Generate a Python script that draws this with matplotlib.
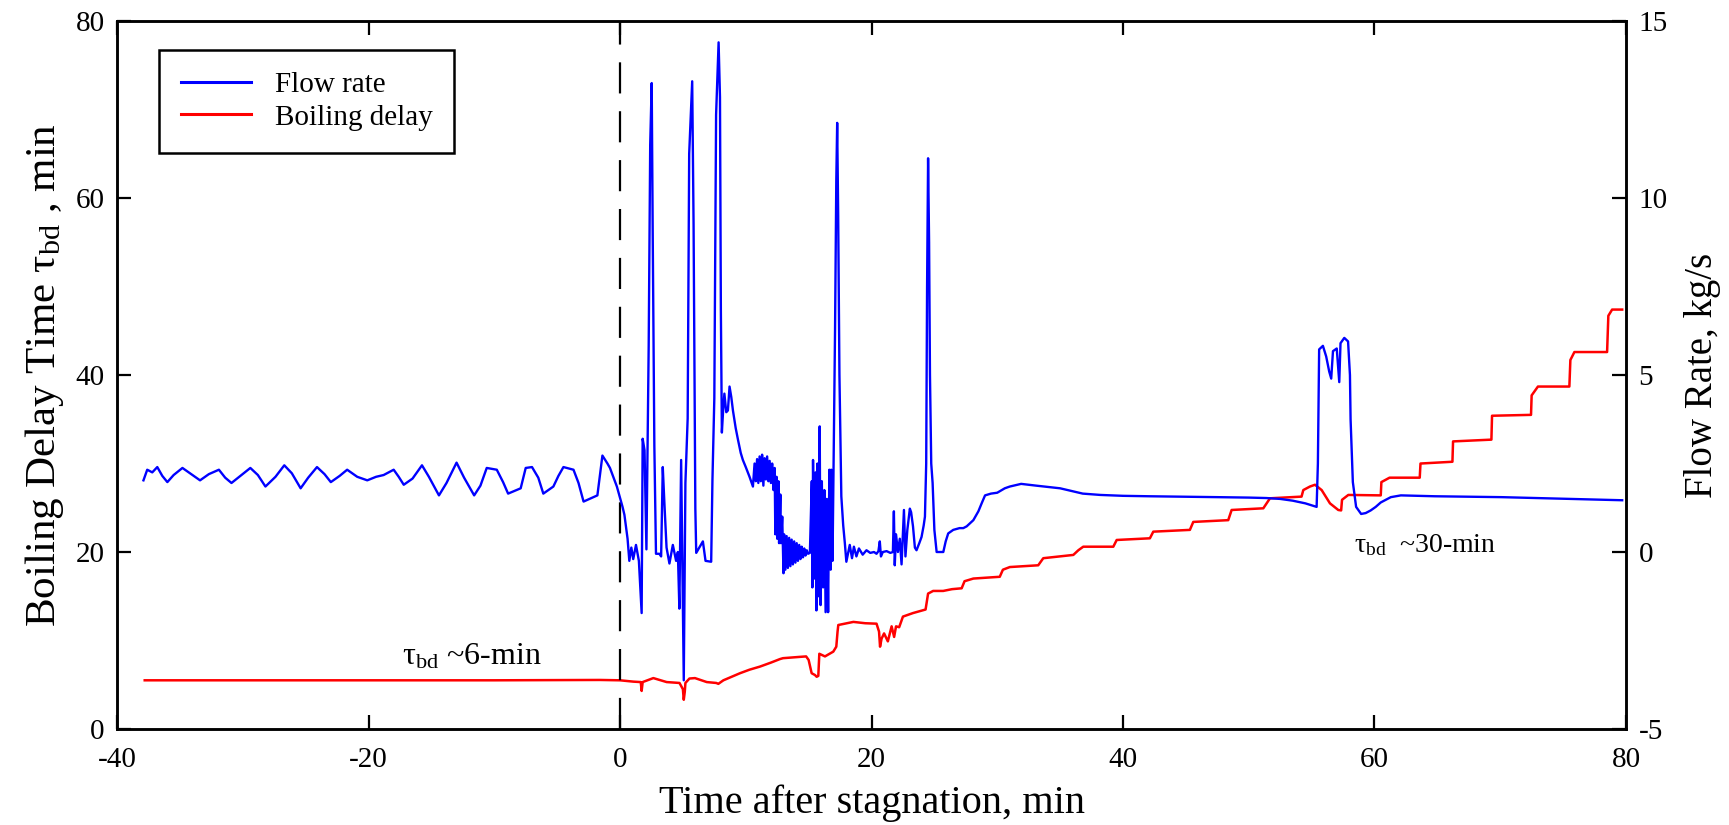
import matplotlib
matplotlib.use('Agg')
import matplotlib.pyplot as plt
import numpy as np

plt.rcParams['font.family'] = ['Liberation Serif', 'DejaVu Serif']
plt.rcParams['mathtext.fontset'] = 'custom'
plt.rcParams['mathtext.rm'] = 'Liberation Serif'
plt.rcParams['mathtext.it'] = 'Liberation Serif:italic'
plt.rcParams['axes.unicode_minus'] = False

# 유량 (kg/s 로 환산하기 전, 왼쪽 축 눈금으로 읽은 값)
flow_time = [
    -37.9, -37.6, -37.2, -36.8, -36.4, -36.0, -35.5, -34.8, -34.2, -33.4,
    -32.7, -31.9, -31.4, -30.9, -30.2, -29.4, -28.8, -28.2, -27.4, -26.7,
    -26.1, -25.4, -24.8, -24.1, -23.5, -23.0, -22.3, -21.7, -20.9, -20.1,
    -19.4, -18.8, -18.0, -17.6, -17.2, -16.5, -15.75, -15.2, -14.4, -13.8,
    -13.0, -12.4, -11.6, -11.1, -10.6, -9.8, -9.3, -8.9, -7.9, -7.5,
    -7.0, -6.5, -6.1, -5.3, -4.9, -4.5, -3.7, -3.3, -2.9, -1.8,
    -1.4, -1.0, -0.8, -0.25, 0.2,
    0.35, 0.6, 0.74, 0.9, 1.05, 1.27, 1.5, 1.72, 1.8, 1.95,
    2.1, 2.28, 2.4, 2.52, 2.6, 2.73, 2.86, 3.13, 3.27, 3.4,
    3.53, 3.7, 3.93, 4.2, 4.46, 4.6, 4.72, 4.86, 5.0, 5.07,
    5.2, 5.38, 5.5, 5.74, 5.85, 5.99, 6.06, 6.3, 6.59, 6.8,
    7.25, 7.35, 7.5, 7.64, 7.84, 7.95, 8.02, 8.1, 8.2, 8.3,
    8.45, 8.58, 8.71, 8.85, 8.98, 9.2, 9.38, 9.6, 9.77, 10.0,
    10.3, 10.57, 10.7, 10.8, 10.9, 11.0, 11.1, 11.2, 11.3, 11.4,
    11.5, 11.6, 11.7, 11.8, 11.9, 12.0, 12.1, 12.2, 12.3, 12.35,
    12.45, 12.5, 12.6, 12.65, 12.75, 12.8, 12.9, 13.0, 13.05, 13.15,
    13.25, 13.35, 13.45, 13.55, 13.65, 13.75, 13.85, 13.95, 14.05, 14.15,
    14.25, 14.35, 14.45, 14.55, 14.65, 14.75, 14.85, 14.95, 15.1, 15.25,
    15.3, 15.35, 15.45, 15.55, 15.62, 15.7, 15.8, 15.88, 15.95, 16.05,
    16.15, 16.25, 16.35, 16.45, 16.55, 16.65, 16.75, 16.8, 16.9, 17.0,
    17.1, 17.2, 17.27, 17.35, 17.45, 17.6, 17.75, 17.88, 18.0, 18.27,
    18.45, 18.6, 18.8, 19.0, 19.3, 19.6, 19.9, 20.2, 20.4, 20.55,
    20.66, 20.75, 20.9, 21.2, 21.5, 21.7, 21.78, 21.85, 21.95, 22.1,
    22.25, 22.39, 22.58, 22.7, 22.85, 23.05, 23.15, 23.3, 23.45, 23.58,
    23.8, 23.98, 24.15, 24.25, 24.35, 24.42, 24.5, 24.58, 24.65, 24.75,
    24.86, 25.0, 25.18, 25.4, 25.71, 25.9, 26.1, 26.5, 27.0, 27.3,
    27.57, 28.1, 28.5, 28.76, 29.03, 29.5, 30.0, 30.6, 31.0, 31.9,
    33.1, 35.0, 36.8, 38.2, 40.0, 42.1, 45.0, 47.5, 50.0, 51.4,
    52.5, 53.5, 54.5, 55.4, 55.5, 55.6, 55.9, 56.16, 56.4, 56.56,
    56.7, 57.0, 57.2, 57.3, 57.6, 57.9, 58.05, 58.1, 58.28, 58.54,
    58.94, 59.3, 59.7, 60.1, 60.5, 61.3, 62.1, 64.8, 70.1, 75.4, 79.7,
]
flow_read = [
    28.1, 29.3, 29.0, 29.6, 28.6, 27.9, 28.7, 29.5, 28.9, 28.1,
    28.8, 29.3, 28.4, 27.8, 28.6, 29.5, 28.7, 27.4, 28.5, 29.8,
    28.9, 27.2, 28.4, 29.6, 28.8, 27.9, 28.6, 29.3, 28.5, 28.1,
    28.5, 28.7, 29.3, 28.5, 27.6, 28.3, 29.8, 28.5, 26.4, 27.8,
    30.1, 28.4, 26.4, 27.5, 29.5, 29.3, 27.9, 26.6, 27.2, 29.5,
    29.6, 28.4, 26.6, 27.4, 28.6, 29.6, 29.3, 27.8, 25.7, 26.4,
    30.9, 30.0, 29.5, 27.4, 25.1,
    24.2, 21.5, 19.0, 20.5, 19.2, 20.8, 19.0, 13.1, 32.8, 31.5,
    20.3, 43.3, 66.0, 73.0, 56.0, 32.0, 19.8, 19.8, 19.5, 29.6,
    25.5, 20.5, 18.7, 20.8, 19.0, 20.0, 13.6, 30.4, 13.4, 5.5,
    27.8, 35.1, 65.0, 73.2, 57.0, 24.9, 19.9, 20.5, 21.2, 19.0,
    18.9, 28.1, 37.4, 69.4, 77.6, 71.4, 47.4, 33.5, 36.0, 37.9,
    35.8, 36.0, 38.7, 37.5, 36.0, 34.0, 32.7, 31.2, 30.4, 29.6,
    28.5, 27.4, 30.0, 28.0, 30.5, 27.8, 30.8, 28.0, 31.0, 27.5,
    30.6, 28.2, 30.8, 28.0, 30.3, 27.8, 30.0, 27.0, 29.5, 22.0,
    28.5, 21.5, 28.0, 21.0, 26.5, 21.0, 24.0, 17.6, 22.0, 18.0,
    21.8, 18.2, 21.6, 18.4, 21.4, 18.6, 21.2, 18.8, 21.0, 19.0,
    20.8, 19.2, 20.6, 19.4, 20.4, 19.6, 20.2, 19.8, 19.9, 28.0,
    16.0, 30.4, 17.0, 29.0, 13.4, 30.0, 15.0, 34.2, 14.0, 28.0,
    16.0, 27.0, 13.2, 26.0, 13.2, 29.3, 18.0, 29.3, 19.0, 32.0,
    45.0, 62.0, 68.5, 58.0, 40.0, 26.3, 23.0, 21.0, 18.9, 20.8,
    19.3, 20.6, 19.5, 20.4, 19.7, 20.2, 19.9, 20.0, 19.8, 20.1,
    21.2, 19.5, 20.0, 20.1, 19.9, 20.0, 24.6, 18.5, 22.0, 20.0,
    21.5, 18.6, 24.75, 19.5, 22.5, 24.9, 24.5, 22.9, 20.5, 20.2,
    21.0, 21.7, 23.0, 24.0, 30.0, 50.0, 64.5, 55.0, 40.0, 30.0,
    27.8, 22.5, 20.0, 20.0, 20.0, 21.2, 22.1, 22.5, 22.7, 22.7,
    22.9, 23.6, 24.6, 25.5, 26.4, 26.6, 26.7, 27.2, 27.4, 27.7,
    27.5, 27.2, 26.6, 26.45, 26.35, 26.3, 26.25, 26.2, 26.15, 26.1,
    26.0, 25.8, 25.5, 25.1, 30.0, 42.9, 43.3, 42.1, 40.4, 39.6,
    42.7, 43.0, 39.2, 43.6, 44.2, 43.8, 40.0, 35.0, 27.9, 25.1,
    24.3, 24.4, 24.7, 25.1, 25.6, 26.2, 26.4, 26.3, 26.2, 26.0, 25.85,
]
# 왼쪽 축 20 = 0 kg/s, 눈금 4칸 = 1 kg/s
flow_rate = [(v - 20) / 4 for v in flow_read]

# 비등 지연 시간 (min)
delay_time = [
    -37.8, -30.0, -20.0, -10.0, -1.6, 0.0, 1.06, 1.65, 1.72, 1.8,
    2.65, 3.71, 4.73, 5.0, 5.07, 5.15, 5.2, 5.52, 5.96, 6.9,
    7.65, 7.82, 8.22, 9.54, 10.3, 11.13, 12.0, 12.72, 12.96, 14.32,
    14.8, 15.0, 15.24, 15.5, 15.64, 15.77, 15.85, 16.3, 16.96, 17.2,
    17.3, 17.36, 18.56, 19.5, 20.4, 20.6, 20.68, 20.8, 21.0, 21.3,
    21.6, 21.8, 21.95, 22.2, 22.5, 23.3, 24.3, 24.5, 24.9, 25.7,
    26.4, 27.17, 27.4, 28.1, 30.2, 30.45, 31.0, 33.26, 33.66, 36.05,
    36.45, 36.84, 39.23, 39.5, 42.14, 42.41, 45.32, 45.59, 48.37, 48.64,
    51.16, 51.69, 54.2, 54.34, 54.87, 55.27, 55.8, 56.46, 57.12, 57.35,
    57.42, 57.92, 60.5, 60.55, 61.2, 63.6, 63.66, 66.2, 66.25, 69.3,
    69.35, 72.45, 72.5, 73.0, 75.5, 75.58, 75.9, 78.5, 78.6, 78.9, 79.7,
]
delay_value = [
    5.5, 5.5, 5.5, 5.5, 5.54, 5.5, 5.35, 5.3, 4.3, 5.3,
    5.75, 5.3, 5.2, 4.5, 3.3, 4.2, 5.2, 5.7, 5.75, 5.3,
    5.2, 5.1, 5.5, 6.3, 6.7, 7.05, 7.5, 7.9, 8.0, 8.15,
    8.2, 7.8, 6.3, 6.1, 5.9, 6.0, 8.5, 8.2, 8.74, 9.3,
    11.0, 11.75, 12.1, 11.95, 11.9, 11.0, 9.3, 10.2, 10.8, 9.9,
    11.6, 10.4, 11.6, 11.5, 12.7, 13.1, 13.5, 15.3, 15.6, 15.6,
    15.8, 15.9, 16.7, 17.0, 17.2, 18.0, 18.3, 18.5, 19.3, 19.67,
    20.2, 20.6, 20.6, 21.36, 21.55, 22.3, 22.5, 23.4, 23.6, 24.75,
    24.94, 26.07, 26.26, 27.0, 27.4, 27.6, 27.0, 25.5, 24.75, 24.7,
    25.9, 26.45, 26.4, 27.9, 28.4, 28.4, 30.0, 30.2, 32.5, 32.7,
    35.4, 35.5, 37.7, 38.7, 38.7, 41.7, 42.6, 42.6, 46.7, 47.4, 47.4,
]

x_ticks = [-40, -20, 0, 20, 40, 60, 80]
left_ticks = [0, 20, 40, 60, 80]
right_ticks = [-5, 0, 5, 10, 15]

fig = plt.figure(figsize=(17.29, 8.25), dpi=100)
ax = fig.add_axes([0.0677, 0.1164, 0.8727, 0.858])
ax2 = ax.twinx()

red_line, = ax.plot(delay_time, delay_value, color='#ff0000', lw=1.8)
ax.axvline(0, color='black', lw=1.6, linestyle=(0, (14, 8)))
blue_line, = ax2.plot(flow_time, flow_rate, color='#0000ff', lw=1.7)

ax.set_xlim(-40, 80)
ax.set_ylim(0, 80)
ax2.set_ylim(-5, 15)
ax.set_xticks(x_ticks)
ax.set_yticks(left_ticks)
ax2.set_yticks(right_ticks)

ax.tick_params(axis='both', direction='in', length=10, width=1.6,
               labelsize=21, top=True, right=False)
ax.tick_params(axis='x', pad=13)
ax.tick_params(axis='y', pad=9)
ax2.tick_params(axis='y', direction='in', length=10, width=1.6,
                labelsize=21, pad=9)
for a in (ax, ax2):
    for s in a.spines.values():
        s.set_linewidth(1.8)

ax.set_xlabel('Time after stagnation, min', fontsize=29, labelpad=8)
ax.set_ylabel(r'Boiling Delay Time τ$_{\rm bd}$ , min', fontsize=31, labelpad=7)
ax2.set_ylabel('Flow Rate, kg/s', fontsize=28, labelpad=12)

ax.text(-17.3, 7.3, r'τ$_{\rm bd}$ ~6-min', fontsize=23, ha='left', va='baseline')
ax.text(58.4, 20.0, r'τ$_{\rm bd}$  ~30-min', fontsize=20, ha='left', va='baseline')

leg = ax2.legend([blue_line, red_line], ['Flow rate', 'Boiling delay'],
                 loc='upper left', bbox_to_anchor=(0.028, 0.959),
                 borderaxespad=0, fontsize=21, fancybox=False,
                 edgecolor='black', framealpha=1, handlelength=2.4,
                 handletextpad=0.8, borderpad=0.75, labelspacing=0.2)
leg.get_frame().set_linewidth(1.8)
for line in leg.get_lines():
    line.set_linewidth(2.2)

fig.savefig('out.png', dpi=100)
